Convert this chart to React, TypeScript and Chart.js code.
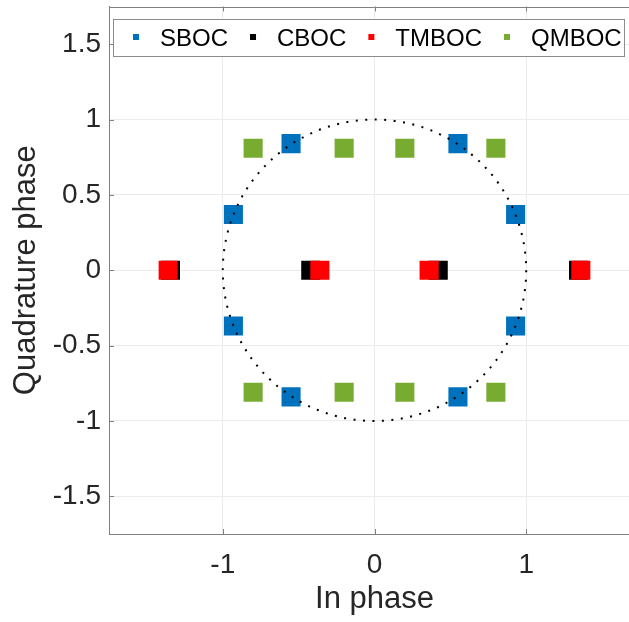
import { useEffect, useRef } from "react";
import { Chart, registerables } from "chart.js";

Chart.register(...registerables);

// ---- data ----
const seriesNames = ["SBOC", "CBOC", "TMBOC", "QMBOC"];
const seriesColors = ["#0072BD", "#000000", "#FF0000", "#77AC30"];

const sbocI = [0.55, 0.93, 0.93, 0.55, -0.55, -0.93, -0.93, -0.55];
const sbocQ = [0.84, 0.37, -0.37, -0.84, -0.84, -0.37, 0.37, 0.84];

const cbocI = [-1.345, -0.42, 0.42, 1.345];
const cbocQ = [0, 0, 0, 0];

const tmbocI = [-1.36, -0.36, 0.36, 1.36];
const tmbocQ = [0, 0, 0, 0];

const qmbocI = [-0.8, -0.2, 0.2, 0.8, -0.8, -0.2, 0.2, 0.8];
const qmbocQ = [0.81, 0.81, 0.81, 0.81, -0.81, -0.81, -0.81, -0.81];

const xTicks = [-1, 0, 1];
const yTicks = [-1.5, -1, -0.5, 0, 0.5, 1, 1.5];
const axisMin = -1.75;
const axisMax = 1.75;
const circleRadius = 1;

const xTitle = "In phase";
const yTitle = "Quadrature phase";

const FONT = "'Liberation Sans', Arial, Helvetica, sans-serif";
const TEXT = "#262626";
const AXIS = "#808080";
const GRID = "#ebebeb";

const CANVAS_SHIFT = 7;

const toPoints = (xs: number[], ys: number[]) => xs.map((x, i) => ({ x, y: ys[i] }));

const seriesData = [
  toPoints(sbocI, sbocQ),
  toPoints(cbocI, cbocQ),
  toPoints(tmbocI, tmbocQ),
  toPoints(qmbocI, qmbocQ),
];

const framePlugin = {
  id: "frame",
  beforeDatasetsDraw(chart: any) {
    const { ctx, chartArea: a, scales } = chart;
    ctx.save();
    ctx.strokeStyle = AXIS;
    ctx.lineWidth = 1;
    ctx.beginPath();
    ctx.moveTo(a.left, Math.round(a.top) + 0.5);
    ctx.lineTo(a.right, Math.round(a.top) + 0.5);
    const tl = 5;
    xTicks.forEach((v) => {
      const px = Math.round(scales.x.getPixelForValue(v)) + 0.5;
      ctx.moveTo(px, a.bottom);
      ctx.lineTo(px, a.bottom - tl);
      ctx.moveTo(px, a.top);
      ctx.lineTo(px, a.top + tl);
    });
    yTicks.forEach((v) => {
      const py = Math.round(scales.y.getPixelForValue(v)) + 0.5;
      ctx.moveTo(a.left, py);
      ctx.lineTo(a.left + tl, py);
    });
    ctx.stroke();
    ctx.restore();
  },
};

const circlePlugin = {
  id: "unitCircle",
  afterDatasetsDraw(chart: any) {
    const { ctx, scales } = chart;
    const cx = scales.x.getPixelForValue(0);
    const cy = scales.y.getPixelForValue(0);
    const rx = Math.abs(scales.x.getPixelForValue(circleRadius) - cx);
    const ry = Math.abs(scales.y.getPixelForValue(circleRadius) - cy);
    ctx.save();
    ctx.strokeStyle = "#000000";
    ctx.lineWidth = 2;
    ctx.setLineDash([2, 7.5]);
    ctx.beginPath();
    ctx.ellipse(cx, cy, rx, ry, 0, 0, Math.PI * 2);
    ctx.stroke();
    ctx.restore();
  },
};

const legendPlugin = {
  id: "matLegend",
  afterDraw(chart: any) {
    const { ctx, chartArea: a } = chart;
    ctx.save();
    ctx.font = `24px ${FONT}`;
    const top = a.top + 12;
    const bottom = top + 37;
    const left = a.left + 4;
    const midY = (top + bottom) / 2;
    const items: { mx: number; tx: number; w: number }[] = [];
    let x = left + 23;
    seriesNames.forEach((name) => {
      const w = ctx.measureText(name).width;
      items.push({ mx: x, tx: x + 24, w });
      x = x + 24 + w + 25;
    });
    const lastItem = items[items.length - 1];
    const right = lastItem.tx + lastItem.w + 2;
    ctx.fillStyle = "#ffffff";
    ctx.fillRect(left, top, right - left, bottom - top);
    ctx.strokeStyle = "#8c8c8c";
    ctx.lineWidth = 1;
    ctx.strokeRect(Math.round(left) + 0.5, Math.round(top) + 0.5, Math.round(right - left), bottom - top);
    items.forEach((it, i) => {
      ctx.fillStyle = seriesColors[i];
      ctx.fillRect(it.mx - 3, midY - 3, 6, 6);
      ctx.fillStyle = "#000000";
      ctx.textBaseline = "alphabetic";
      ctx.textAlign = "left";
      ctx.fillText(seriesNames[i], it.tx, midY + 9);
    });
    ctx.restore();
  },
};

export default function App() {
  const canvasRef = useRef<HTMLCanvasElement | null>(null);

  useEffect(() => {
    if (!canvasRef.current) return;
    const drawOrder = [4, 3, 2, 1];
    const chart = new Chart(canvasRef.current, {
      type: "scatter",
      data: {
        datasets: seriesNames.map((name, i) => ({
          label: name,
          data: seriesData[i],
          order: drawOrder[i],
          pointStyle: "rect",
          pointRadius: 13.5,
          pointHoverRadius: 13.5,
          backgroundColor: seriesColors[i],
          borderColor: seriesColors[i],
          borderWidth: 0,
          showLine: false,
        })),
      },
      options: {
        responsive: false,
        animation: false,
        events: [],
        layout: { padding: { left: 0, right: 20, top: 5, bottom: 0 } },
        plugins: {
          legend: { display: false },
          tooltip: { enabled: false },
        },
        scales: {
          x: {
            type: "linear",
            min: axisMin,
            max: axisMax,
            afterBuildTicks: (s: any) => {
              s.ticks = xTicks.map((v) => ({ value: v }));
            },
            afterFit: (s: any) => {
              s.height = 88;
              s.paddingLeft = 0;
              s.paddingRight = 0;
            },
            grid: { color: GRID, lineWidth: 1, drawTicks: false },
            border: { color: AXIS, width: 1 },
            ticks: {
              font: { family: FONT, size: 28 },
              color: TEXT,
              padding: 14.5,
              autoSkip: false,
              maxRotation: 0,
              callback: (v: any) => String(v),
            },
            title: {
              display: true,
              text: xTitle,
              color: TEXT,
              font: { family: FONT, size: 31 },
              padding: { top: 0, bottom: 4 },
            },
          },
          y: {
            type: "linear",
            min: axisMin,
            max: axisMax,
            afterBuildTicks: (s: any) => {
              s.ticks = yTicks.map((v) => ({ value: v }));
            },
            afterFit: (s: any) => {
              s.width = 109;
              s.paddingTop = 0;
              s.paddingBottom = 0;
            },
            grid: { color: GRID, lineWidth: 1, drawTicks: false },
            border: { color: AXIS, width: 1 },
            ticks: {
              font: { family: FONT, size: 28 },
              color: TEXT,
              padding: 8,
              autoSkip: false,
              callback: (v: any) => String(v),
            },
            title: {
              display: true,
              text: yTitle,
              color: TEXT,
              font: { family: FONT, size: 31 },
              padding: { top: 8, bottom: 0 },
            },
          },
        },
      },
      plugins: [framePlugin, circlePlugin, legendPlugin],
    });
    return () => chart.destroy();
  }, []);

  return (
    <div
      style={{
        position: "fixed",
        left: 0,
        top: 0,
        width: 629,
        height: 622,
        overflow: "hidden",
        background: "#ffffff",
      }}
    >
      <canvas
        ref={canvasRef}
        width={660}
        height={622 + CANVAS_SHIFT}
        style={{ display: "block", marginTop: -CANVAS_SHIFT }}
      />
    </div>
  );
}
